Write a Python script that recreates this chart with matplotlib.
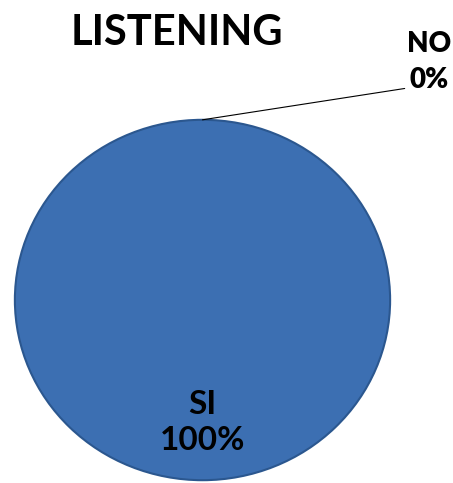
import matplotlib
matplotlib.use("Agg")
import numpy as np
from matplotlib import pyplot as plt
from matplotlib.patches import Circle

# chart data
title = "LISTENING"
categories = ["SI", "NO"]
percentages = [100, 0]

FACE = "#3c6fb2"
EDGE = "#2b578f"

plt.rcParams["font.family"] = ["Lato", "DejaVu Sans"]

fig = plt.figure(figsize=(4.53, 4.83), dpi=100)
fig.patch.set_facecolor("white")

# the pie in the reference is a little wider than tall, so no equal aspect
ax = fig.add_axes([13 / 453, 1 / 483, 379 / 453, 364 / 483])
wedges, _ = ax.pie(
    percentages,
    startangle=90,
    counterclock=False,
    colors=[FACE, FACE],
    wedgeprops=dict(linewidth=0),
    radius=1.0,
)
# outline only round the rim, no radial seam
ax.add_patch(Circle((0, 0), 1.0, fill=False, edgecolor=EDGE, linewidth=1.5))
ax.set_aspect("auto")
ax.set_xlim(-1.01, 1.01)
ax.set_ylim(-1.01, 1.01)
ax.axis("off")

for w, name, pct in zip(wedges, categories, percentages):
    mid = np.deg2rad((w.theta1 + w.theta2) / 2)
    label = f"{name}\n{pct}%"
    if pct > 0:
        ax.text(0.68 * np.cos(mid), 0.68 * np.sin(mid), label,
                ha="center", va="center", fontsize=24, fontweight="bold",
                linespacing=1.27)
    else:
        ax.annotate(label, xy=(np.cos(mid), np.sin(mid)),
                    xytext=(1.21, 1.32), ha="center", va="center",
                    fontsize=20, fontweight="heavy", linespacing=1.5,
                    annotation_clip=False,
                    arrowprops=dict(arrowstyle="-", color="black", lw=0.8,
                                    shrinkA=0, shrinkB=0,
                                    relpos=(-0.05, 0.08)))

fig.text(177 / 453, 1 - 33 / 483, title, ha="center", va="center",
         fontsize=30, fontweight="bold")

fig.savefig("out.png", dpi=100, facecolor="white")
